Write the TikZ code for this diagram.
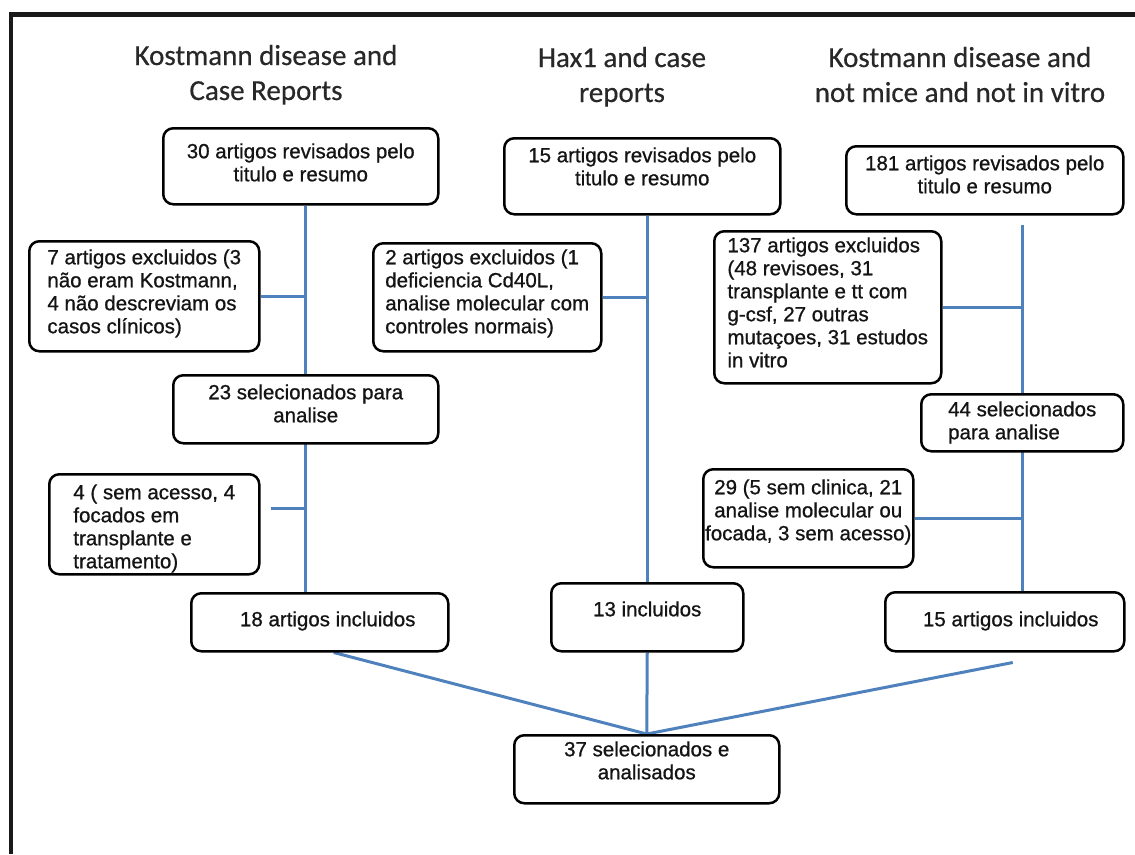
\documentclass[tikz,border=0pt]{standalone}
\usepackage{fontspec}
\setmainfont[FakeBold=0.8]{Liberation Sans}
\newfontfamily\headfont[FakeBold=0.5]{Carlito}
\usepackage{tikz}
\pgfdeclarelayer{linklayer}
\pgfsetlayers{linklayer,main}
\definecolor{linkcolor}{RGB}{79,129,189}
\definecolor{headcolor}{RGB}{40,40,40}
\definecolor{boxtext}{RGB}{20,20,20}
\definecolor{framecolor}{RGB}{25,25,25}

\begin{document}
\begin{tikzpicture}[
    x=1pt, y=-1pt,
    font=\fontsize{20.5}{23}\selectfont,
    link/.style={line width=3pt, color=linkcolor},
    headtext/.style={
        font=\headfont\fontsize{29}{35}\selectfont,
        text=headcolor,
        align=center,
        anchor=base
    },
    stagebox/.style={
        rectangle,
        rounded corners=10pt,
        draw=black,
        line width=2.5pt,
        fill=white,
        text=boxtext,
        inner xsep=0pt,
        inner ysep=0pt,
        anchor=north west,
        align=center
    }
]
\useasboundingbox (0,0) rectangle (1135,854);

% Frame
\draw [framecolor, line width=4.5pt] (11,854) -- (11,14.5) -- (1135,14.5);

% Titles
\node (title1) [headtext] at (266,100) {Kostmann disease and\\Case Reports};
\node (title2) [headtext] at (622,102) {Hax1 and case\\reports};
\node (title3) [headtext] at (960,102) {Kostmann disease and\\not mice and not in vitro};

%% LEFT COLUMN %%
\node (a1) [stagebox, minimum width=275pt, text height=53pt, text depth=23pt] at (162,127)
    {30 artigos revisados pelo\\titulo e resumo};
\node (b1) [stagebox, align=left, minimum width=230pt, text height=92pt, text depth=18pt] at (28,240)
    {7 artigos excluidos (3\\não eram Kostmann,\\4 não descreviam os\\casos clínicos)};
\node (c1) [stagebox, minimum width=265pt, text height=47pt, text depth=21pt] at (172,374)
    {23 selecionados para\\analise};
\node (d1) [stagebox, align=left, minimum width=210pt, text height=94pt, text depth=6pt] at (48,473)
    {4 ( sem acesso, 4\\focados em\\transplante e\\tratamento)};
\node (e1) [stagebox, minimum width=257pt, text height=33pt, text depth=25pt] at (190,592)
    {\hspace*{16pt}18 artigos incluidos};

%% MIDDLE COLUMN %%
\node (a2) [stagebox, minimum width=276pt, text height=47pt, text depth=29pt] at (503,137)
    {15 artigos revisados pelo\\titulo e resumo};
\node (b2) [stagebox, align=left, minimum width=228pt, text height=90pt, text depth=18pt] at (372,242)
    {2 artigos excluidos (1\\deficiencia Cd40L,\\analise molecular com\\controles normais)};
\node (e2) [stagebox, minimum width=192pt, text height=33pt, text depth=35pt] at (550,582)
    {13 incluidos};

%% RIGHT COLUMN %%
\node (a3) [stagebox, minimum width=277pt, text height=47pt, text depth=21pt] at (845,145)
    {181 artigos revisados pelo\\titulo e resumo};
\node (b3) [stagebox, align=left, minimum width=227pt, text height=136pt, text depth=16pt] at (713,230)
    {137 artigos excluidos\\(48 revisoes, 31\\transplante e tt com\\g-csf, 27 outras\\mutaçoes, 31 estudos\\in vitro};
\node (c3) [stagebox, align=left, minimum width=202pt, text height=45pt, text depth=12pt] at (920,393)
    {44 selecionados\\para analise};
\node (d3) [stagebox, minimum width=210pt, text height=71pt, text depth=27pt] at (702,468)
    {29 (5 sem clinica, 21\\analise molecular ou\\focada, 3 sem acesso)};
\node (e3) [stagebox, minimum width=239pt, text height=34pt, text depth=25pt] at (884,591)
    {\hspace*{12pt}15 artigos incluidos};

%% RESULT %%
\node (final) [stagebox, minimum width=265pt, text height=44pt, text depth=24pt] at (513,734)
    {37 selecionados e\\analisados};

%% CONNECTORS %%
\begin{pgfonlayer}{linklayer}
    \draw [link] (a1.south -| c1.north) -- (e1.north -| c1.north);
    \draw [link] (b1.east) -- (b1.east -| c1.north);
    \coordinate (d1link) at ([xshift=10pt, yshift=16pt]d1.east);
    \draw [link] (d1link) -- (d1link -| c1.north);

    \draw [link] (a2.south -| e2.north) -- (e2.north);
    \draw [link] (b2.east) -- (b2.east -| e2.north);

    \coordinate (a3link) at ([yshift=-9pt]a3.south);
    \draw [link] (a3link -| c3.north) -- (e3.north -| c3.north);
    \draw [link] (b3.east) -- (b3.east -| c3.north);
    \draw [link] (d3.east) -- (d3.east -| c3.north);

    \draw [link] ([xshift=14pt]e1.south) -- (final.north);
    \draw [link] (e2.south) -- (final.north);
    \coordinate (e3link) at ([xshift=8pt, yshift=-10pt]e3.south);
    \draw [link] (e3link) -- (final.north);
\end{pgfonlayer}

\end{tikzpicture}
\end{document}
